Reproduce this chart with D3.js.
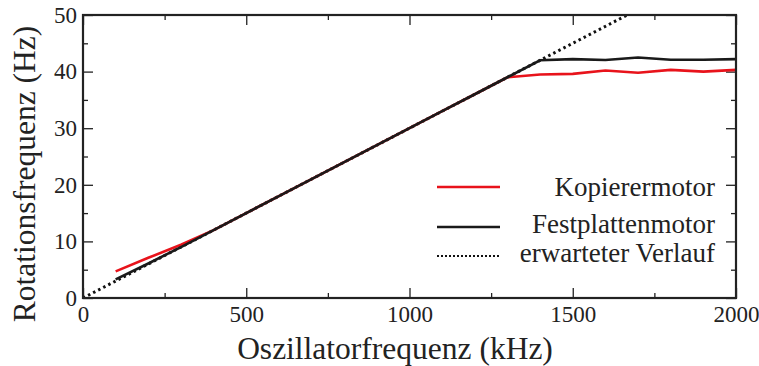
<!DOCTYPE html>
<html lang="de">
<head>
<meta charset="UTF-8">
<title>Rotationsfrequenz</title>
<script src="https://d3js.org/d3.v7.min.js"></script>
<style>
    body { margin: 0; background: #fff; }
    svg text { font-family: "Liberation Serif", "Times New Roman", serif; fill: #222; }
</style>
</head>
<body>
<svg id="canvas" width="759" height="366"></svg>
<script>
    // Oszillatorfrequenz in kHz
    const freq = [100, 200, 300, 400, 500, 600, 700, 800, 900, 1000,
                  1100, 1200, 1300, 1400, 1500, 1600, 1700, 1800, 1900, 2000];
    // Rotationsfrequenz in Hz
    const kopierer = [4.7, 7.1, 9.4, 12, 15, 18, 21, 24, 27, 30,
                      33, 36, 39, 39.5, 39.6, 40.2, 39.8, 40.3, 40.0, 40.3];
    const festplatte = [3.3, 6.1, 9.0, 12, 15, 18, 21, 24, 27, 30,
                        33, 36, 39, 42, 42.2, 42.05, 42.5, 42.1, 42.1, 42.2];
    // erwarteter Verlauf
    const expX = [0, 2000];
    const expY = [0, 60];

    const xMajor = [0, 500, 1000, 1500, 2000];
    const xMinor = [250, 750, 1250, 1750];
    const yMajor = [0, 10, 20, 30, 40, 50];
    const yMinor = [5, 15, 25, 35, 45];

    const legendNames = ["Kopierermotor", "Festplattenmotor", "erwarteter Verlauf"];

    const mLeft = 83, mRight = 736, mTop = 15, mBottom = 298;
    const ink = "#222";

    const svg = d3.select("#canvas");
    const x = d3.scaleLinear().domain([0, 2000]).range([mLeft, mRight]);
    const y = d3.scaleLinear().domain([0, 50]).range([mBottom, mTop]);

    svg.append("clipPath").attr("id", "clip")
        .append("rect").attr("x", mLeft).attr("y", mTop)
        .attr("width", mRight - mLeft).attr("height", mBottom - mTop);

    // axes with inward ticks on all four sides
    function addAxis(axis, tx, ty, labels) {
        const g = svg.append("g").attr("transform", `translate(${tx},${ty})`).call(axis);
        g.select(".domain").remove();
        g.selectAll("line").attr("stroke", ink).attr("stroke-width", 1.3);
        g.selectAll("text").style("font-size", "23px").attr("fill", ink);
        if (!labels) g.selectAll("text").remove();
        return g;
    }
    addAxis(d3.axisBottom(x).tickValues(xMajor).tickSize(-10).tickPadding(8).tickFormat(d3.format("d")), 0, mBottom, true);
    addAxis(d3.axisBottom(x).tickValues(xMinor).tickSize(-5), 0, mBottom, false);
    addAxis(d3.axisTop(x).tickValues(xMajor).tickSize(-10), 0, mTop, false);
    addAxis(d3.axisTop(x).tickValues(xMinor).tickSize(-5), 0, mTop, false);
    addAxis(d3.axisLeft(y).tickValues(yMajor).tickSize(-10).tickPadding(6).tickFormat(d3.format("d")), mLeft, 0, true);
    addAxis(d3.axisLeft(y).tickValues(yMinor).tickSize(-5), mLeft, 0, false);
    addAxis(d3.axisRight(y).tickValues(yMajor).tickSize(-10), mRight, 0, false);
    addAxis(d3.axisRight(y).tickValues(yMinor).tickSize(-5), mRight, 0, false);

    const line = d3.line().x(d => x(d[0])).y(d => y(d[1]));
    const plot = svg.append("g").attr("clip-path", "url(#clip)");

    plot.append("path")
        .attr("d", line(d3.zip(expX, expY)))
        .attr("fill", "none").attr("stroke", "#111")
        .attr("stroke-width", 3).attr("stroke-dasharray", "2.5,3.2");
    plot.append("path")
        .attr("d", line(d3.zip(freq, kopierer)))
        .attr("fill", "none").attr("stroke", "#e8131b").attr("stroke-width", 2.6);
    plot.append("path")
        .attr("d", line(d3.zip(freq, festplatte)))
        .attr("fill", "none").attr("stroke", "#1a1a1a").attr("stroke-width", 2.6);

    // frame
    svg.append("rect")
        .attr("x", mLeft).attr("y", mTop)
        .attr("width", mRight - mLeft).attr("height", mBottom - mTop)
        .attr("fill", "none").attr("stroke", ink).attr("stroke-width", 2.2);

    // legend
    const legendStyles = [
        {stroke: "#e8131b", dash: null},
        {stroke: "#1a1a1a", dash: null},
        {stroke: "#111", dash: "2,2"}
    ];
    const legendLineY = [187, 227, 256];
    const legendTextY = [196, 233, 262];
    legendNames.forEach((name, i) => {
        svg.append("line")
            .attr("x1", 437).attr("x2", 500)
            .attr("y1", legendLineY[i]).attr("y2", legendLineY[i])
            .attr("stroke", legendStyles[i].stroke).attr("stroke-width", i === 2 ? 2 : 2.5)
            .attr("stroke-dasharray", legendStyles[i].dash);
        svg.append("text")
            .attr("x", 715).attr("y", legendTextY[i])
            .attr("text-anchor", "end")
            .style("font-size", "27px")
            .text(name);
    });

    // axis titles
    svg.append("text")
        .attr("x", 395).attr("y", 359)
        .attr("text-anchor", "middle")
        .style("font-size", "31.5px")
        .text("Oszillatorfrequenz (kHz)");
    svg.append("text")
        .attr("transform", "translate(35,174) rotate(-90)")
        .attr("text-anchor", "middle")
        .style("font-size", "31.5px")
        .text("Rotationsfrequenz (Hz)");
</script>
</body>
</html>
